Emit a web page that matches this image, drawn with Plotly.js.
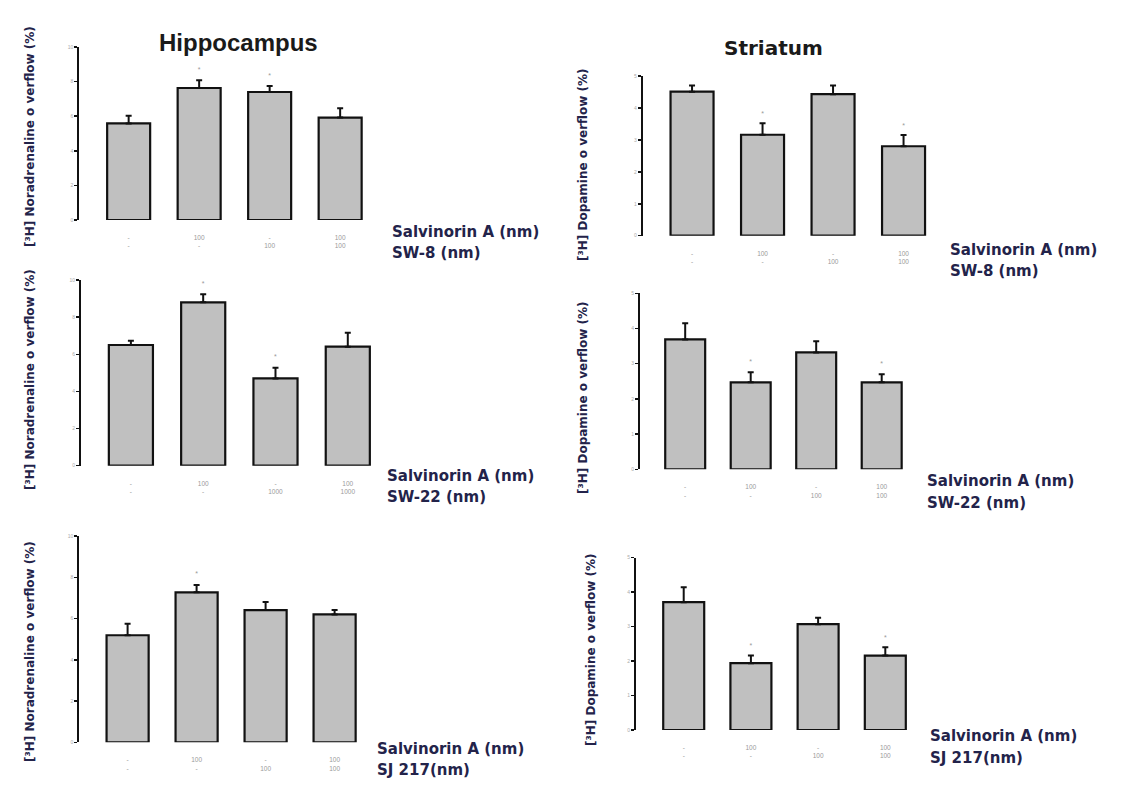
<!DOCTYPE html>
<html>
<head>
<meta charset="utf-8">
<script src="https://cdn.plot.ly/plotly-3.0.1.min.js"></script>
<style>html,body{margin:0;padding:0;background:#fff;}#chart{width:1130px;height:799px;}</style>
</head>
<body>
<div id="chart"></div>
<script>
// ---- data ----
var hippoSW8 = [5.58, 7.63, 7.40, 5.92];
var hippoSW8Err = [0.44, 0.45, 0.35, 0.54];
var hippoSW8Sig = [0, 1, 1, 0];
var striSW8 = [4.51, 3.16, 4.43, 2.80];
var striSW8Err = [0.19, 0.36, 0.27, 0.35];
var striSW8Sig = [0, 1, 0, 1];
var hippoSW22 = [6.50, 8.80, 4.70, 6.41];
var hippoSW22Err = [0.23, 0.43, 0.58, 0.75];
var hippoSW22Sig = [0, 1, 1, 0];
var striSW22 = [3.69, 2.47, 3.32, 2.47];
var striSW22Err = [0.46, 0.29, 0.32, 0.23];
var striSW22Sig = [0, 1, 0, 1];
var hippoSJ = [5.19, 7.27, 6.41, 6.20];
var hippoSJErr = [0.56, 0.35, 0.39, 0.21];
var hippoSJSig = [0, 1, 0, 0];
var striSJ = [3.71, 1.94, 3.07, 2.16];
var striSJErr = [0.43, 0.22, 0.19, 0.24];
var striSJSig = [0, 1, 0, 1];

var labelsSW8 = ["-<br>-", "100<br>-", "-<br>100", "100<br>100"];
var labelsSW22L = ["-<br>-", "100<br>-", "-<br>1000", "100<br>1000"];
var labelsSW22R = ["-<br>-", "100<br>-", "-<br>100", "100<br>100"];
var labelsSJ = ["-<br>-", "100<br>-", "-<br>100", "100<br>100"];

var hippoTicks = [0, 2, 4, 6, 8, 10];
var striTicks = [0, 1, 2, 3, 4, 5];

var noraTitle = "[³H] Noradrenaline o verflow (%)";
var dopaTitle = "[³H] Dopamine o verflow (%)";
var drugA = "Salvinorin A (nm)";

// ---- layout helpers ----
var W = 1130, H = 799;
function px(x){ return x / W; }
function py(y){ return 1 - y / H; }

var panels = [
  {vals: hippoSW8, err: hippoSW8Err, sig: hippoSW8Sig, labels: labelsSW8, ticks: hippoTicks, ymax: 10,
   x0: 79.3, sp: 70.5, off: 0.7, yt: 47, yb: 220, ytitle: noraTitle, ytx: 30, yty: 137,
   l1: drugA, l2: "SW-8 (nm)", lx: 390, ly1: 232, ly2: 253},
  {vals: striSW8, err: striSW8Err, sig: striSW8Sig, labels: labelsSW8, ticks: striTicks, ymax: 5,
   x0: 642.7, sp: 70.5, off: 0.7, yt: 76, yb: 235.7, ytitle: dopaTitle, ytx: 583, yty: 165,
   l1: drugA, l2: "SW-8 (nm)", lx: 948, ly1: 250, ly2: 271},
  {vals: hippoSW22, err: hippoSW22Err, sig: hippoSW22Sig, labels: labelsSW22L, ticks: hippoTicks, ymax: 10,
   x0: 81, sp: 72.3, off: 0.69, yt: 280, yb: 465.7, ytitle: noraTitle, ytx: 30, yty: 380,
   l1: drugA, l2: "SW-22 (nm)", lx: 385, ly1: 476, ly2: 497},
  {vals: striSW22, err: striSW22Err, sig: striSW22Sig, labels: labelsSW22R, ticks: striTicks, ymax: 5,
   x0: 640, sp: 65.5, off: 0.69, yt: 293.3, yb: 469.3, ytitle: dopaTitle, ytx: 583, yty: 398,
   l1: drugA, l2: "SW-22 (nm)", lx: 925, ly1: 481, ly2: 503},
  {vals: hippoSJ, err: hippoSJErr, sig: hippoSJSig, labels: labelsSJ, ticks: hippoTicks, ymax: 10,
   x0: 79.3, sp: 69, off: 0.7, yt: 536, yb: 742.3, ytitle: noraTitle, ytx: 30, yty: 652,
   l1: drugA, l2: "SJ 217(nm)", lx: 375, ly1: 749, ly2: 770},
  {vals: striSJ, err: striSJErr, sig: striSJSig, labels: labelsSJ, ticks: striTicks, ymax: 5,
   x0: 636, sp: 67.2, off: 0.71, yt: 557.7, yb: 730, ytitle: dopaTitle, ytx: 591, yty: 650,
   l1: drugA, l2: "SJ 217(nm)", lx: 928, ly1: 736, ly2: 758}
];

var traces = [];
var layout = {
  width: W, height: H,
  margin: {l: 0, r: 0, t: 0, b: 0},
  paper_bgcolor: '#fff', plot_bgcolor: 'rgba(0,0,0,0)',
  showlegend: false,
  font: {family: 'Liberation Sans, Arial, sans-serif', color: '#111'},
  annotations: []
};

var cats = [0, 1, 2, 3];
var textCol = '#23234a';
var labelFont = 'DejaVu Sans, Verdana, sans-serif';

panels.forEach(function(p, i){
  var n = i + 1;
  var xa = 'x' + (n === 1 ? '' : n), ya = 'y' + (n === 1 ? '' : n);
  var xkey = 'xaxis' + (n === 1 ? '' : n), ykey = 'yaxis' + (n === 1 ? '' : n);
  var xmax = 3.5;
  var xEnd = p.x0 + (xmax + p.off) * p.sp;

  traces.push({
    type: 'bar', x: cats, y: p.vals, xaxis: xa, yaxis: ya, width: 0.61,
    marker: {color: '#c0c0c0', line: {color: '#111', width: 2.2}},
    error_y: {type: 'data', symmetric: false, array: p.err, arrayminus: p.vals.map(function(){return 0;}),
              color: '#111', thickness: 2, width: 3},
    hoverinfo: 'skip'
  });

  var sx = [], sy = [];
  p.sig.forEach(function(s, k){
    if (s) { sx.push(k); sy.push(p.vals[k] + p.err[k] + 0.055 * p.ymax); }
  });
  traces.push({
    type: 'scatter', mode: 'text', x: sx, y: sy, xaxis: xa, yaxis: ya,
    text: sx.map(function(){return '*';}), textfont: {size: 7, color: '#999'},
    hoverinfo: 'skip'
  });

  layout[xkey] = {
    domain: [px(p.x0), px(xEnd)], anchor: ya, range: [-p.off, xmax],
    showline: false, showgrid: false, zeroline: false,
    tickvals: cats, ticktext: p.labels,
    ticks: 'outside', ticklen: 11, tickcolor: 'rgba(0,0,0,0)',
    tickfont: {size: 6.5, color: '#9a9a9a'}, fixedrange: true
  };
  layout[ykey] = {
    domain: [py(p.yb), py(p.yt)], anchor: xa, range: [0, p.ymax],
    showline: true, linecolor: '#111', linewidth: 2,
    showgrid: false, zeroline: false,
    tickvals: p.ticks, ticktext: p.ticks.map(String),
    ticks: 'outside', ticklen: 3, tickwidth: 1.5, tickcolor: '#111',
    tickfont: {size: 5, color: '#aaa'}, fixedrange: true
  };

  layout.annotations.push({
    xref: 'paper', yref: 'paper', x: px(p.ytx), y: py(p.yty), text: '<b>' + p.ytitle + '</b>',
    textangle: -90, showarrow: false, xanchor: 'center', yanchor: 'middle',
    font: {size: 12, color: textCol, family: labelFont}
  });
  layout.annotations.push({
    xref: 'paper', yref: 'paper', x: px(p.lx), y: py(p.ly1), text: '<b>' + p.l1 + '</b>',
    showarrow: false, xanchor: 'left', yanchor: 'middle',
    font: {size: 15, color: textCol, family: labelFont}
  });
  layout.annotations.push({
    xref: 'paper', yref: 'paper', x: px(p.lx), y: py(p.ly2), text: '<b>' + p.l2 + '</b>',
    showarrow: false, xanchor: 'left', yanchor: 'middle',
    font: {size: 15, color: textCol, family: labelFont}
  });
});

layout.annotations.push({
  xref: 'paper', yref: 'paper', x: px(238), y: py(42), text: '<b>Hippocampus</b>',
  showarrow: false, xanchor: 'center', yanchor: 'middle',
  font: {size: 24, color: '#1a1a1a'}
});
layout.annotations.push({
  xref: 'paper', yref: 'paper', x: px(773), y: py(48), text: '<b>Striatum</b>',
  showarrow: false, xanchor: 'center', yanchor: 'middle',
  font: {size: 20, color: '#1a1a1a', family: labelFont}
});

Plotly.newPlot('chart', traces, layout, {displayModeBar: false, staticPlot: true});
</script>
</body>
</html>
